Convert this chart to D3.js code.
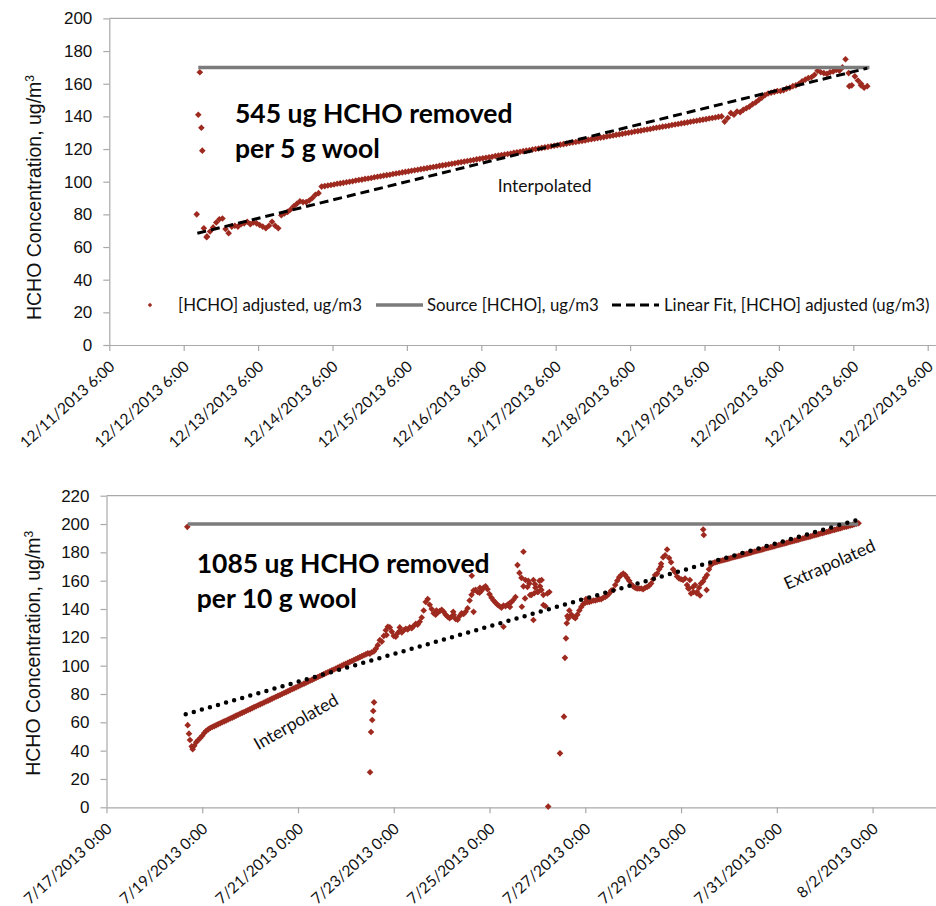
<!DOCTYPE html>
<html>
<head>
<meta charset="utf-8">
<script src="https://cdn.jsdelivr.net/npm/d3@7"></script>
<style>
  html, body { margin: 0; padding: 0; background: #ffffff; }
  svg { display: block; }
</style>
</head>
<body>
<svg id="chart" width="936" height="906"></svg>
<script>
// ---------------- December run: 5 g wool ----------------
const topTickLabels = ["12/11/2013 6:00", "12/12/2013 6:00", "12/13/2013 6:00", "12/14/2013 6:00",
  "12/15/2013 6:00", "12/16/2013 6:00", "12/17/2013 6:00", "12/18/2013 6:00", "12/19/2013 6:00",
  "12/20/2013 6:00", "12/21/2013 6:00", "12/22/2013 6:00"];
const topYTicks = [0, 20, 40, 60, 80, 100, 120, 140, 160, 180, 200];

// hourly [HCHO] adjusted readings (ug/m3) starting at this time
const topStart = "12/12/2013 12:30";
const topValues = [
  71.5, 66.5, 69.5, 72, 75, 77, 77.5, 71, 68.5, 72.5, 73, 72.5, 74, 74.5, 75.5, 74, 75, 74.5, 73.5, 72.5,
  71.5, 73, 75.5, 73, 71.5, 79.5, 80.5, 81.5, 83, 85, 86.5, 88, 87.5, 87.5, 88.5, 90, 92, 93,
  97, 97.3, 97.7, 98, 98.3, 98.7, 99, 99.3, 99.7, 100, 100.3, 100.7, 101, 101.3, 101.7, 102, 102.3, 102.7,
  103, 103.3, 103.7, 104, 104.3, 104.7, 105, 105.3, 105.7, 106, 106.3, 106.7, 107, 107.3, 107.7, 108, 108.3,
  108.7, 109, 109.3, 109.7, 110, 110.3, 110.7, 111, 111.3, 111.7, 112, 112.3, 112.7, 113, 113.3, 113.7, 114,
  114.3, 114.7, 115, 115.3, 115.7, 116, 116.3, 116.7, 117, 117.3, 117.7, 118, 118.3, 118.7, 119, 119.3, 119.7,
  120, 120.3, 120.7, 121, 121.3, 121.7, 122, 122.3, 122.7, 123, 123.3, 123.7, 124, 124.3, 124.7, 125, 125.3,
  125.7, 126, 126.3, 126.7, 127, 127.3, 127.7, 128, 128.3, 128.7, 129, 129.3, 129.7, 130, 130.3, 130.7, 131,
  131.3, 131.7, 132, 132.3, 132.7, 133, 133.3, 133.7, 134, 134.3, 134.7, 135, 135.3, 135.7, 136, 136.3, 136.7,
  137, 137.3, 137.7, 138, 138.3, 138.7, 139, 139.3, 139.7, 140,
  136.8, 139, 142, 141, 143, 142.5, 144, 145, 146, 147.5, 148.5, 150, 151.5, 153, 154, 154.5, 155, 155.5,
  155.5, 156, 157, 157.5, 158.5, 159, 160, 161.5, 162.5, 163.5, 164, 165.5, 168, 167, 166.5, 166, 167, 167.5,
  168.5, 168, 170, 175, 166.5, 159, 164.5, 162, 160, 157.5, 158.5
];
// off-grid readings (hours from topStart)
const topExtraHours  = [-2.3, -1.8, -1.3, -0.8, -0.5, 0.9, 208.2, 212];
const topExtraValues = [80, 141, 167, 133, 119, 66, 158.5, 159];
const topSourceLevel = 170;
const topSourceHours = [-1.8, 214.7];
const topFitHours = [-2.1, 214];
const topFitValues = [68.4, 169.5];

// ---------------- July run: 10 g wool ----------------
const bottomTickLabels = ["7/17/2013 0:00", "7/19/2013 0:00", "7/21/2013 0:00", "7/23/2013 0:00",
  "7/25/2013 0:00", "7/27/2013 0:00", "7/29/2013 0:00", "7/31/2013 0:00", "8/2/2013 0:00"];
const bottomYTicks = [0, 20, 40, 60, 80, 100, 120, 140, 160, 180, 200, 220];

const bottomStart = "7/18/2013 20:00";
const bottomValues = [
  43.5, 46, 47.5, 49, 50.5, 52.5, 54, 55,
  56, 56.7, 57.3, 58, 58.7, 59.3, 60, 60.7, 61.3, 62, 62.7, 63.3, 64, 64.7, 65.3, 66, 66.7, 67.3, 68, 68.7,
  69.3, 70, 70.7, 71.3, 72, 72.7, 73.3, 74, 74.7, 75.3, 76, 76.7, 77.3, 78, 78.7, 79.3, 80, 80.7, 81.3, 82,
  82.7, 83.3, 84, 84.7, 85.3, 86, 86.7, 87.3, 88, 88.7, 89.3, 90, 90.7, 91.3, 92, 92.7, 93.3, 94, 94.7, 95.3,
  96, 96.7, 97.3, 98, 98.7, 99.3, 100, 100.7, 101.3, 102, 102.7, 103.3, 104, 104.7, 105.3, 106, 106.7, 107.3,
  108, 108.7,
  108.5, 109.5, 110, 112, 114.5, 118, 117, 121, 125, 127.5, 127, 124, 121, 120.5, 123, 124.5, 123.5, 125,
  126, 125.5, 127, 126.5, 128, 129.5, 129, 131, 134, 139, 145, 147, 143, 140, 137, 136, 137.5, 138.5, 139.5,
  138, 136, 134.5, 133.5, 134.5, 136, 133, 132.5, 135, 137, 136.5, 138, 140.5, 146, 150, 153, 153.5, 152,
  151.5, 153, 155, 156, 154, 150.5, 148, 146, 144.5, 143, 142, 141, 142.5, 142, 143, 144, 145, 146.5, 148.5,
  171, 165.5, 162, 156, 160.5, 155.5, 158, 150, 160.5, 155, 152, 160, 153.5, 150, 142, 151, 152,
  null, null, null, null, null, null, null, null,
  135, 139, 136, 134.5, 133.5, 136, 139, 141.5, 143.5, 144.5, 145, 145, 145.5, 146, 146, 146.5, 147, 147,
  148, 148.5, 149.5, 151, 153, 153.5, 157, 160, 162.5, 164, 165, 164, 162, 160, 157.5, 156, 155, 154.5,
  154.5, 154.5, 154, 155, 155.5, 156.5, 158, 161, 164, 165, 168, 172, 176.5, 178, 182, 176, 173, 168, 166,
  163, 161.5, 161, 160.5, 161.5, 157, 154.5, 151, 155.5, 157, 152, 155, 158, 159.5, 162, 164, 168, 171, 172.5,
  172.9, 173.3, 173.7, 174.1, 174.4, 174.8, 175.2, 175.6, 176, 176.4, 176.7, 177.1, 177.5, 177.9, 178.3,
  178.7, 179, 179.4, 179.8, 180.2, 180.6, 181, 181.3, 181.7, 182.1, 182.5, 182.9, 183.3, 183.7, 184, 184.4,
  184.8, 185.2, 185.6, 186, 186.3, 186.7, 187.1, 187.5, 187.9, 188.3, 188.6, 189, 189.4, 189.8, 190.2, 190.6,
  190.9, 191.3, 191.7, 192.1, 192.5, 192.9, 193.3, 193.6, 194, 194.4, 194.8, 195.2, 195.6, 195.9, 196.3,
  196.7, 197.1, 197.5, 197.9, 198.2, 198.6, 199, 199.4, 199.8, 200.2, 200.5
];
const bottomExtraHours = [-3.5, -3.3, -2.65, -2.15, -1.3, -0.8,
  88.1, 88.6, 89.2, 89.7, 90.1,
  96.4, 103, 121.4, 129.8, 139.1, 140, 143.2, 155, 158.2, 164.2, 165, 165.8, 167.4, 168.3, 170, 170.4,
  170.8, 172.5, 173.3, 174.1, 175, 177.4, 183.3, 185.3, 185.8, 186.3, 186.7, 187.5, 196.4, 233.9,
  247.6, 248.4, 250.2, 251.8, 253.5, 255.1, 255.4, 256.8];
const bottomExtraValues = [198, 58, 52, 47.5, 43, 41,
  24.7, 53.2, 61.6, 68, 74.1,
  121.6, 127, 139, 138, 163.5, 138, 155, 127.5, 141.5, 141.6, 180.4, 147.5, 160, 149.9, 132.2, 151.1,
  157.5, 152.2, 156, 160.5, 142.8, 0.5, 38.1, 64, 105.5, 119.3, 129.9, 133.4, 147, 170,
  154.6, 160.5, 152, 151.1, 149.5, 196.1, 192.3, 153.4];
const bottomSourceLevel = 200;
const bottomSourceHours = [-3.3, 332.8];
const bottomFitHours = [-4.3, 332];
const bottomFitValues = [65.7, 202.8];

const legendLabels = ["[HCHO] adjusted, ug/m3", "Source [HCHO], ug/m3", "Linear Fit, [HCHO] adjusted (ug/m3)"];

// ---------------- drawing ----------------
const svg = d3.select("#chart");
const parseStamp = d3.utcParse("%m/%d/%Y %H:%M");
const formatStamp = d3.utcFormat("%-m/%-d/%Y %-H:%M");
const HOUR = 3600e3, DAY = 24 * HOUR;

const RED = "#9e2a1f";
const SOURCE_GRAY = "#7b7b7b";
const AXIS_GRAY = "#a9a9a9";
const TEXT = "#111111";
const ARIAL = "'Liberation Sans', Arial, sans-serif";
const CALIBRI = "Lato, 'Open Sans', sans-serif";

function diamond(r) { return `M0,${-r}L${r},0L0,${r}L${-r},0Z`; }

function atHours(start, h) { return new Date(parseStamp(start).getTime() + h * HOUR); }

function buildPoints(start, values, extraHours, extraValues) {
  const pts = [];
  values.forEach((v, i) => { if (v != null) pts.push({ t: atHours(start, i), v }); });
  extraHours.forEach((h, i) => pts.push({ t: atHours(start, h), v: extraValues[i] }));
  return pts;
}

function drawPanel(cfg) {
  const g = svg.append("g");
  const ticks = cfg.tickLabels.map(parseStamp);
  const x0 = ticks[0];
  const x1 = new Date(x0.getTime() + cfg.spanDays * DAY);
  const x = d3.scaleUtc().domain([x0, x1]).range([cfg.left, cfg.left + cfg.spanDays * cfg.pxPerDay]);
  const y = d3.scaleLinear().domain([0, cfg.yMax]).range([cfg.bottom, cfg.top]);

  // plot-area top edge
  g.append("line")
    .attr("x1", cfg.left).attr("x2", x.range()[1])
    .attr("y1", y(cfg.yMax)).attr("y2", y(cfg.yMax))
    .attr("stroke", AXIS_GRAY).attr("stroke-width", 1.2);

  // value axis
  const yAxis = g.append("g").attr("transform", `translate(${cfg.left},0)`)
    .call(d3.axisLeft(y).tickValues(cfg.yTicks).tickSize(6).tickSizeOuter(0).tickPadding(11));
  yAxis.selectAll("path, line").attr("stroke", AXIS_GRAY).attr("stroke-width", 1.2);
  yAxis.selectAll("text").attr("font-family", ARIAL).attr("font-size", 17).attr("fill", TEXT);

  // time axis
  const xAxis = g.append("g").attr("transform", `translate(0,${cfg.bottom})`)
    .call(d3.axisBottom(x).tickValues(ticks).tickFormat(formatStamp).tickSize(6).tickSizeOuter(0));
  xAxis.selectAll("path, line").attr("stroke", AXIS_GRAY).attr("stroke-width", 1.2);
  xAxis.selectAll("text")
    .attr("font-family", CALIBRI).attr("font-size", 15.5).attr("fill", TEXT)
    .attr("text-anchor", "end").attr("x", 0).attr("y", 0).attr("dy", 0)
    .attr("transform", "translate(6,23) rotate(-42)");

  // measured concentrations
  const pts = buildPoints(cfg.start, cfg.values, cfg.extraHours, cfg.extraValues);
  g.append("g").selectAll("path").data(pts).join("path")
    .attr("d", diamond(3.3))
    .attr("transform", d => `translate(${x(d.t)},${y(d.v)})`)
    .attr("fill", RED);

  // source concentration
  g.append("line")
    .attr("x1", x(atHours(cfg.start, cfg.sourceHours[0]))).attr("x2", x(atHours(cfg.start, cfg.sourceHours[1])))
    .attr("y1", y(cfg.sourceLevel)).attr("y2", y(cfg.sourceLevel))
    .attr("stroke", SOURCE_GRAY).attr("stroke-width", 3.5);

  // linear fit
  const fit = cfg.fitHours.map((h, i) => [x(atHours(cfg.start, h)), y(cfg.fitValues[i])]);
  const fitLine = g.append("path").attr("d", d3.line()(fit)).attr("fill", "none").attr("stroke", "#000");
  if (cfg.fitStyle === "dash") {
    fitLine.attr("stroke-width", 3).attr("stroke-dasharray", "9,5");
  } else {
    fitLine.attr("stroke-width", 4.5).attr("stroke-linecap", "round").attr("stroke-dasharray", "0,8.4");
  }

  // axis title
  const title = svg.append("text")
    .attr("transform", `translate(${cfg.titleX},${cfg.titleY}) rotate(-90)`)
    .attr("text-anchor", "middle").attr("font-family", ARIAL).attr("font-size", 19.5).attr("fill", TEXT);
  title.append("tspan").text("HCHO Concentration, ug/m");
  title.append("tspan").attr("dy", "-0.55em").attr("font-size", 12).text("3");

  return { g, x, y };
}

// December panel
const topPanel = drawPanel({
  tickLabels: topTickLabels, spanDays: 12, left: 109.3, pxPerDay: 74.4,
  yMax: 200, top: 18.4, bottom: 345, yTicks: topYTicks,
  start: topStart, values: topValues, extraHours: topExtraHours, extraValues: topExtraValues,
  sourceLevel: topSourceLevel, sourceHours: topSourceHours,
  fitHours: topFitHours, fitValues: topFitValues, fitStyle: "dash",
  titleX: 40.5, titleY: 197.5
});

// July panel
const bottomPanel = drawPanel({
  tickLabels: bottomTickLabels, spanDays: 18, left: 106.5, pxPerDay: 47.88,
  yMax: 220, top: 495.7, bottom: 807.3, yTicks: bottomYTicks,
  start: bottomStart, values: bottomValues, extraHours: bottomExtraHours, extraValues: bottomExtraValues,
  sourceLevel: bottomSourceLevel, sourceHours: bottomSourceHours,
  fitHours: bottomFitHours, fitValues: bottomFitValues, fitStyle: "dot",
  titleX: 39.5, titleY: 653.3
});

// annotations
function boldNote(xp, yp, lines) {
  const t = svg.append("text").attr("font-family", CALIBRI).attr("font-weight", 700)
    .attr("font-size", 26.5).attr("fill", "#000");
  lines.forEach((s, i) => t.append("tspan").attr("x", xp).attr("y", yp + i * 34.5).text(s));
}
boldNote(235, 123.3, ["545 ug HCHO removed", "per 5 g wool"]);
boldNote(196.7, 573, ["1085 ug HCHO removed", "per 10 g wool"]);

svg.append("text").attr("x", 497.7).attr("y", 191.7)
  .attr("font-family", CALIBRI).attr("font-size", 17.5).attr("fill", TEXT).text("Interpolated");
svg.append("text").attr("transform", "translate(299,727) rotate(-30)").attr("text-anchor", "middle")
  .attr("font-family", CALIBRI).attr("font-size", 17.5).attr("fill", TEXT).text("Interpolated");
svg.append("text").attr("transform", "translate(832,570) rotate(-24)").attr("text-anchor", "middle")
  .attr("font-family", CALIBRI).attr("font-size", 17.5).attr("fill", TEXT).text("Extrapolated");

// legend (December panel)
const legendY = 305;
const lg = svg.append("g").attr("font-family", CALIBRI).attr("font-size", 16.8).attr("fill", TEXT);
lg.append("path").attr("d", diamond(2.2)).attr("transform", `translate(150,${legendY})`).attr("fill", RED);
lg.append("text").attr("x", 178).attr("y", legendY + 5.5).text(legendLabels[0]);
lg.append("line").attr("x1", 376).attr("x2", 423).attr("y1", legendY).attr("y2", legendY)
  .attr("stroke", SOURCE_GRAY).attr("stroke-width", 3.5);
lg.append("text").attr("x", 427).attr("y", legendY + 5.5).text(legendLabels[1]);
lg.append("line").attr("x1", 612).attr("x2", 659).attr("y1", legendY).attr("y2", legendY)
  .attr("stroke", "#000").attr("stroke-width", 3).attr("stroke-dasharray", "9,5");
lg.append("text").attr("x", 664).attr("y", legendY + 5.5).text(legendLabels[2]);
</script>
</body>
</html>
